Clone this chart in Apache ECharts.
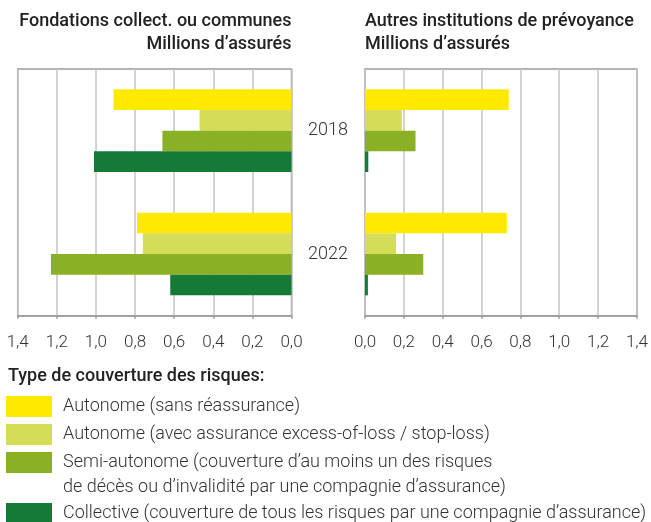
<!DOCTYPE html>
<html><head><meta charset="utf-8">
<script src="https://cdn.jsdelivr.net/npm/echarts@6/dist/echarts.min.js"></script>
<style>html,body{margin:0;padding:0;background:#fff}#c{width:651px;height:522px}</style>
</head><body><div id="c"></div>
<script>
const categories = ['2018', '2022'];
const seriesNames = [
  'Autonome (sans réassurance)',
  'Autonome (avec assurance excess-of-loss / stop-loss)',
  'Semi-autonome (couverture d\u2019au moins un des risques',
  'Collective (couverture de tous les risques par une compagnie d\u2019assurance)'
];
const semiSecondLine = 'de décès ou d\u2019invalidité par une compagnie d\u2019assurance)';
const colors = ['#FFE900', '#D5DC58', '#8AB026', '#167A37'];
// Fondations collectives ou communes (millions d'assurés)
const fondAutonome = [0.91, 0.79];
const fondAutonomeXL = [0.47, 0.76];
const fondSemi = [0.66, 1.23];
const fondCollective = [1.01, 0.62];
// Autres institutions de prévoyance
const autresAutonome = [0.74, 0.73];
const autresAutonomeXL = [0.19, 0.16];
const autresSemi = [0.26, 0.30];
const autresCollective = [0.017, 0.015];
const xTicks = [0, 0.2, 0.4, 0.6, 0.8, 1.0, 1.2, 1.4];

const leftData = [fondAutonome, fondAutonomeXL, fondSemi, fondCollective];
const rightData = [autresAutonome, autresAutonomeXL, autresSemi, autresCollective];

const FONT = 'Roboto';
const fmt = v => v.toFixed(1).replace('.', ',');

function xAxis(gridIndex, inverse) {
  return {
    type: 'value', gridIndex, inverse, min: xTicks[0], max: xTicks[xTicks.length - 1], interval: 0.2,
    axisLine: {show: true, lineStyle: {color: '#9c9c9c', width: 1.5}},
    axisTick: {show: true, length: 3, lineStyle: {color: '#9c9c9c', width: 1.5}},
    splitLine: {show: true, lineStyle: {color: '#c4c4c4', width: 1.5}},
    axisLabel: {formatter: fmt, margin: 19, fontFamily: FONT, fontSize: 17, fontWeight: 300, color: '#333'}
  };
}
function yAxis(gridIndex, showLabel) {
  return {
    type: 'category', gridIndex, data: categories, inverse: true, position: 'right',
    axisLine: {show: false}, axisTick: {show: false}, splitLine: {show: false},
    axisLabel: {show: showLabel, align: 'center', margin: 36.5, fontFamily: FONT, fontSize: 18, fontWeight: 300, color: '#333'}
  };
}

const series = [];
leftData.forEach((d, i) => series.push({
  type: 'bar', name: seriesNames[i], xAxisIndex: 0, yAxisIndex: 0, data: d,
  itemStyle: {color: colors[i]}, barGap: '0%', barCategoryGap: '33%', silent: true
}));
rightData.forEach((d, i) => series.push({
  type: 'bar', name: seriesNames[i], xAxisIndex: 1, yAxisIndex: 1, data: d,
  itemStyle: {color: colors[i]}, barGap: '0%', barCategoryGap: '33%', silent: true
}));

const legendTops = [396, 424, 452, 503];
const legendText = {fontFamily: FONT, fontSize: 18, fontWeight: 300, color: '#333'};
const legends = seriesNames.map((n, i) => ({
  data: [n], left: 6, top: legendTops[i], orient: 'vertical', padding: 0,
  itemWidth: 46, itemHeight: 21, itemGap: 0, icon: 'rect', selectedMode: false,
  formatter: '{t|{name}}',
  textStyle: Object.assign({}, legendText, {rich: {t: Object.assign({}, legendText, {padding: [0, 0, 0, 6]})}})
}));

const titleStyle = {fontFamily: FONT, fontSize: 18, fontWeight: 500, color: '#222', lineHeight: 23};
const option = {
  animation: false,
  title: [
    {text: 'Fondations collect. ou communes\nMillions d\u2019assurés', left: 291.5, top: 10, padding: 0, textAlign: 'right', textStyle: titleStyle},
    {text: 'Autres institutions de prévoyance\nMillions d\u2019assurés', left: 365, top: 10, padding: 0, textAlign: 'left', textStyle: titleStyle},
    {text: 'Type de couverture des risques:', left: 8, top: 367, padding: 0, textStyle: {fontFamily: FONT, fontSize: 18, fontWeight: 500, color: '#222'}},
    {text: semiSecondLine, left: 63, top: 478, padding: 0, textStyle: legendText}
  ],
  legend: legends,
  grid: [
    {left: 17.7, right: 651 - 291.5, top: 69, bottom: 522 - 315.7, show: true, borderColor: '#9c9c9c', borderWidth: 1.5, containLabel: false},
    {left: 365, right: 651 - 639.7, top: 69, bottom: 522 - 315.7, show: true, borderColor: '#9c9c9c', borderWidth: 1.5, containLabel: false}
  ],
  xAxis: [xAxis(0, true), xAxis(1, false)],
  yAxis: [yAxis(0, true), yAxis(1, false)],
  series
};
const chart = echarts.init(document.getElementById('c'), null, {renderer: 'canvas'});
chart.setOption(option);
</script></body></html>
